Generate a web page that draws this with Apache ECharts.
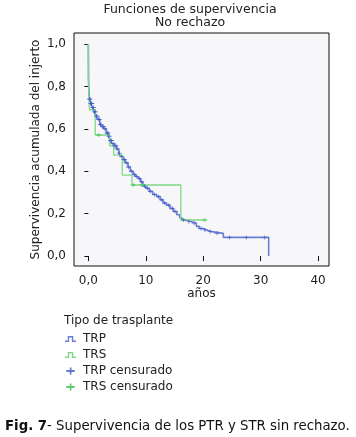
<!DOCTYPE html>
<html>
<head>
<meta charset="utf-8">
<script src="https://cdn.jsdelivr.net/npm/echarts@6/dist/echarts.min.js"></script>
<style>html,body{margin:0;padding:0;background:#fff;}#c{width:356px;height:437px;}</style>
</head>
<body>
<div id="c"></div>
<script>
// Kaplan-Meier step data: [years, survival]
const trpSteps = [
  [0,1.0],[0.02,0.83],[0.1,0.78],[0.2,0.74],[0.4,0.72],[0.7,0.70],[1.0,0.68],[1.3,0.66],
  [1.6,0.645],[2.0,0.62],[2.3,0.61],[2.7,0.60],[3.1,0.58],[3.5,0.565],[3.8,0.545],[4.1,0.53],
  [4.5,0.52],[4.9,0.505],[5.3,0.485],[5.6,0.47],[6.0,0.455],[6.4,0.44],[6.9,0.42],[7.3,0.40],
  [7.8,0.385],[8.2,0.375],[8.7,0.365],[9.1,0.35],[9.5,0.33],[10.0,0.32],[10.6,0.305],[11.2,0.29],
  [11.9,0.28],[12.5,0.265],[13.0,0.25],[13.6,0.24],[14.2,0.225],[14.8,0.21],[15.4,0.195],[15.9,0.18],
  [16.3,0.17],[17.0,0.162],[18.0,0.155],[18.8,0.14],[19.3,0.13],[20.0,0.123],[20.6,0.115],[21.5,0.107],
  [23.5,0.088],[31.4,0.0]
];
const trsSteps = [
  [0,1.0],[0.02,0.90],[0.05,0.82],[0.12,0.73],[0.2,0.69],[1.2,0.571],[3.7,0.52],[4.4,0.476],
  [5.9,0.382],[7.6,0.335],[16.1,0.17],[20.3,0.17]
];
const trpCensored = [0.2,0.3,0.45,0.5,0.6,0.8,0.9,1.1,1.2,1.4,1.5,1.8,1.9,2.1,2.2,2.5,2.6,2.9,3.3,3.4,
  3.6,3.9,4.0,4.3,4.6,4.8,5.0,5.4,5.8,6.2,6.3,6.6,7.0,7.5,8.0,8.4,8.9,9.3,9.8,10.3,10.8,11.5,12.2,
  12.8,13.3,14.0,14.6,15.1,16.6,17.5,18.4,19.6,20.3,21.2,22.4,24.6,27.5,30.7];
const trsCensored = [[1.8,0.571],[7.8,0.335],[9.3,0.335],[20.3,0.17]];
const xTicks = [0,10,20,30,40];
const yTicks = [0,0.2,0.4,0.6,0.8,1.0];

function survAt(steps, t){ let v = steps[0][1]; for (const s of steps){ if (s[0] <= t) v = s[1]; } return v; }
const trpCensPts = trpCensored.map(t => [t, survAt(trpSteps, t)]);

const FONT = 'DejaVu Sans';
const plus = 'path://M5,0H7V4H12V6H7V10H5V6H0V4H5Z';
const plusIcon = 'path://M5,0H7.4V3.6H12V6.4H7.4V10H5V6.4H0V3.6H5Z';
const stepIcon = 'path://M0,5H3V0H9V5H12V6.5H7.5V1.5H4.5V6.5H0Z';
const blueLine = '#6a7ed4', blueMark = '#3d56c6', greenLine = '#80d884', greenMark = '#38c048';
const TXT = '#222';

const chart = echarts.init(document.getElementById('c'), null, {renderer:'canvas'});
chart.setOption({
  animation:false,
  backgroundColor:'#fff',
  title:[
    {text:'Funciones de supervivencia\nNo rechazo', left:190, top:3, textAlign:'center', padding:0,
     textStyle:{fontFamily:FONT, fontSize:12.5, fontWeight:'normal', color:TXT, lineHeight:13}},
    {text:'Tipo de trasplante', left:64, top:315, padding:0,
     textStyle:{fontFamily:FONT, fontSize:12, fontWeight:'normal', color:TXT}},
    {text:'{b|Fig. 7}- Supervivencia de los PTR y STR sin rechazo.', left:5, top:420, padding:0,
     textStyle:{fontFamily:FONT, fontSize:13.3, fontWeight:'normal', color:'#111',
       rich:{b:{fontFamily:FONT, fontSize:13.3, fontWeight:'bold', color:'#111'}}}}
  ],
  legend:{
    orient:'vertical', left:65, top:333, itemWidth:11, itemHeight:7, itemGap:4, padding:0,
    textStyle:{fontFamily:FONT, fontSize:12, color:TXT, lineHeight:12, padding:[0,0,0,2]},
    data:[
      {name:'TRP', icon:stepIcon, itemStyle:{color:blueLine}},
      {name:'TRS', icon:stepIcon, itemStyle:{color:greenLine}},
      {name:'TRP censurado', icon:plusIcon, itemStyle:{color:blueMark}},
      {name:'TRS censurado', icon:plusIcon, itemStyle:{color:greenMark}}
    ]
  },
  grid:{left:74, top:33, right:27, bottom:171, show:true, borderColor:'#111', borderWidth:1, backgroundColor:'#f7f7f9'},
  xAxis:{
    type:'value', min:-2.5, max:41.9,
    name:'años', nameLocation:'middle', nameGap:22, nameMoveOverlap:false,
    nameTextStyle:{fontFamily:FONT, fontSize:12, color:TXT},
    axisLine:{show:false}, splitLine:{show:false},
    axisTick:{show:true, length:5, lineStyle:{color:'#111'}, customValues:xTicks},
    axisLabel:{fontFamily:FONT, fontSize:12, color:TXT, margin:9, customValues:xTicks,
      formatter:v => v === 0 ? '0,0' : String(v)}
  },
  yAxis:{
    type:'value', min:-0.047, max:1.052,
    name:'Supervivencia acumulada del injerto', nameLocation:'middle', nameGap:32, nameMoveOverlap:false,
    nameTextStyle:{fontFamily:FONT, fontSize:12, color:TXT},
    axisLine:{show:false}, splitLine:{show:false},
    axisTick:{show:true, length:4, lineStyle:{color:'#111'}, customValues:yTicks},
    axisLabel:{fontFamily:FONT, fontSize:12, color:TXT, margin:8, customValues:yTicks,
      formatter:v => v.toFixed(1).replace('.', ',')}
  },
  series:[
    {name:'TRP', type:'line', step:'end', data:trpSteps, showSymbol:false, symbol:'none',
     lineStyle:{color:blueLine, width:1.6}, itemStyle:{color:blueLine}, z:2},
    {name:'TRS', type:'line', step:'end', data:trsSteps, showSymbol:false, symbol:'none',
     lineStyle:{color:greenLine, width:1.3}, itemStyle:{color:greenLine}, z:3},
    {name:'TRP censurado', type:'scatter', data:trpCensPts, symbol:plus, symbolSize:[5,4],
     itemStyle:{color:blueMark}, z:4},
    {name:'TRS censurado', type:'scatter', data:trsCensored, symbol:plus, symbolSize:[5,4],
     itemStyle:{color:greenMark}, z:5}
  ]
});
</script>
</body>
</html>
